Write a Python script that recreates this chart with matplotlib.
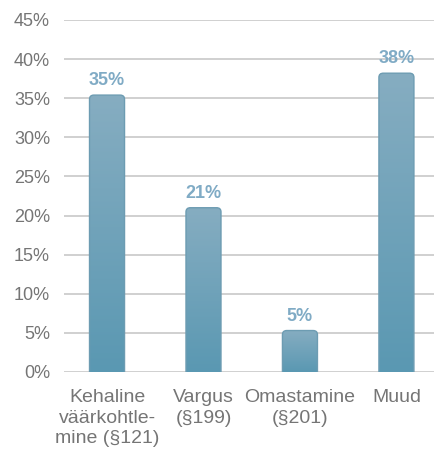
import numpy as np
import matplotlib
matplotlib.use("Agg")
import matplotlib.pyplot as plt
from matplotlib.patches import FancyBboxPatch
from matplotlib.colors import LinearSegmentedColormap

categories = ["Kehaline\nväärkohtle-\nmine (§121)", "Vargus\n(§199)", "Omastamine\n(§201)", "Muud"]
values = [35.4, 21.0, 5.3, 38.2]
labels = ["35%", "21%", "5%", "38%"]
yticks = [0, 5, 10, 15, 20, 25, 30, 35, 40, 45]

plt.rcParams['font.family'] = ['Liberation Sans', 'DejaVu Sans']

fig = plt.figure(figsize=(4.35, 4.51), dpi=100)
ax = fig.add_axes([64/435, 79/451, 371/435, 352/451])
ax.set_xlim(-0.446, 3.40)
ax.set_ylim(0, 45)

for s in ax.spines.values():
    s.set_visible(False)
ax.set_yticks(yticks)
ax.set_yticklabels([f"{t}%" for t in yticks], fontsize=13, color="#757575")
ax.tick_params(axis='y', length=0, pad=10)
ax.tick_params(axis='x', length=0, pad=12)
ax.yaxis.grid(True, color="#c8c8c8", linewidth=1.2)
ax.set_axisbelow(True)
ax.set_xticks(range(len(categories)))
ax.set_xticklabels(categories, fontsize=14, color="#757575", linespacing=1.3)

cmap = LinearSegmentedColormap.from_list("g", ["#5a98b2", "#86adc1"])
grad = np.linspace(0, 1, 256).reshape(-1, 1)
w = 0.363
rx = 0.045
for i, v in enumerate(values):
    patch = FancyBboxPatch((i - w/2, -3), w, v + 3,
                           boxstyle=f"round,pad=0,rounding_size={rx}",
                           mutation_aspect=12.0,
                           facecolor="none", edgecolor="#6d9cb2", linewidth=1.0, zorder=3)
    ax.add_patch(patch)
    im = ax.imshow(grad, cmap=cmap, origin="lower", aspect="auto",
                   extent=[i - w/2, i + w/2, 0, v], zorder=2)
    im.set_clip_path(patch)
    ax.annotate(labels[i], (i, v), xytext=(0, 7), textcoords="offset points",
                ha="center", va="baseline", fontsize=13, fontweight="bold",
                color="#80abc5")

ax.set_xlim(-0.446, 3.40)
ax.set_ylim(0, 45)
fig.savefig("out.png", dpi=100)
